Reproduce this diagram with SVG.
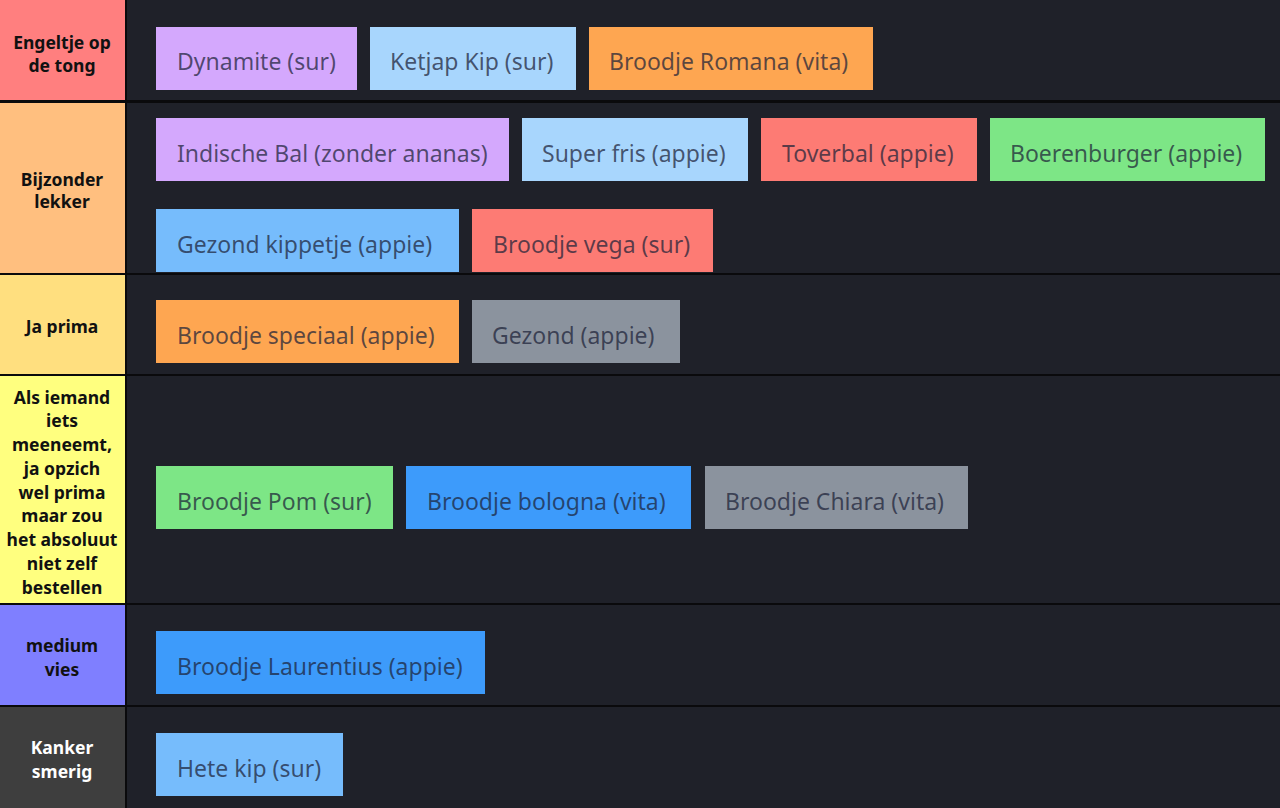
<svg xmlns="http://www.w3.org/2000/svg" width="1280" height="808" viewBox="0 0 1280 808">
<style>
.bg{fill:#1f2129}
.sep{fill:#0a0a0c}
.lbl{font-family:"Noto Sans","Open Sans",sans-serif;font-weight:bold;font-size:17.5px;text-anchor:middle;dominant-baseline:central;fill:#111}
.it{font-family:"Noto Sans","Open Sans",sans-serif;font-size:23px;dominant-baseline:central;fill:#1c2238;fill-opacity:0.72}
.purple{fill:#d4a8fd}
.lblue{fill:#a8d6fd}
.orange{fill:#fea651}
.red{fill:#fd7b74}
.green{fill:#7de686}
.mblue{fill:#76bcfc}
.gray{fill:#8b939e}
.bblue{fill:#3d9bfb}
</style>
<rect class="sep" x="0" y="0" width="1280" height="808"/>
<g id="rows">
<rect class="bg" x="127" y="0" width="1153" height="100"/>
<rect class="bg" x="127" y="103" width="1153" height="170"/>
<rect class="bg" x="127" y="275" width="1153" height="99"/>
<rect class="bg" x="127" y="376" width="1153" height="227"/>
<rect class="bg" x="127" y="605" width="1153" height="100"/>
<rect class="bg" x="127" y="707" width="1153" height="101"/>
</g>
<g id="tier1">
<rect x="0" y="0" width="125" height="100" fill="#ff7f7f"/>
<text class="lbl" x="62" y="42">Engeltje op</text>
<text class="lbl" x="62" y="65">de tong</text>
</g>
<g id="tier2">
<rect x="0" y="103" width="125" height="170" fill="#ffbf7f"/>
<text class="lbl" x="62" y="179">Bijzonder</text>
<text class="lbl" x="62" y="201">lekker</text>
</g>
<g id="tier3">
<rect x="0" y="275" width="125" height="99" fill="#ffdf7f"/>
<text class="lbl" x="62" y="326">Ja prima</text>
</g>
<g id="tier4">
<rect x="0" y="376" width="125" height="227" fill="#ffff7f"/>
<text class="lbl" x="62" y="397">Als iemand</text>
<text class="lbl" x="62" y="420">iets</text>
<text class="lbl" x="62" y="444">meeneemt,</text>
<text class="lbl" x="62" y="468">ja opzich</text>
<text class="lbl" x="62" y="492">wel prima</text>
<text class="lbl" x="62" y="515">maar zou</text>
<text class="lbl" x="62" y="539">het absoluut</text>
<text class="lbl" x="62" y="563">niet zelf</text>
<text class="lbl" x="62" y="587">bestellen</text>
</g>
<g id="tier5">
<rect x="0" y="605" width="125" height="100" fill="#7f7fff"/>
<text class="lbl" x="62" y="645">medium</text>
<text class="lbl" x="62" y="669">vies</text>
</g>
<g id="tier6">
<rect x="0" y="707" width="125" height="101" fill="#3e3e3e"/>
<text class="lbl" x="62" y="747" style="fill:#fff">Kanker</text>
<text class="lbl" x="62" y="771" style="fill:#fff">smerig</text>
</g>
<g id="item-dynamite"><rect class="purple" x="156" y="27" width="201" height="63"/><text class="it" x="177" y="61">Dynamite (sur)</text></g>
<g id="item-ketjap"><rect class="lblue" x="370" y="27" width="206" height="63"/><text class="it" x="390" y="61">Ketjap Kip (sur)</text></g>
<g id="item-romana"><rect class="orange" x="589" y="27" width="284" height="63"/><text class="it" x="609" y="61">Broodje Romana (vita)</text></g>
<g id="item-indische"><rect class="purple" x="156" y="118" width="353" height="63"/><text class="it" x="177" y="153">Indische Bal (zonder ananas)</text></g>
<g id="item-superfris"><rect class="lblue" x="522" y="118" width="226" height="63"/><text class="it" x="542" y="153">Super fris (appie)</text></g>
<g id="item-toverbal"><rect class="red" x="761" y="118" width="216" height="63"/><text class="it" x="782" y="153">Toverbal (appie)</text></g>
<g id="item-boerenburger"><rect class="green" x="990" y="118" width="275" height="63"/><text class="it" x="1010" y="153">Boerenburger (appie)</text></g>
<g id="item-kippetje"><rect class="mblue" x="156" y="209" width="303" height="63"/><text class="it" x="177" y="244">Gezond kippetje (appie)</text></g>
<g id="item-vega"><rect class="red" x="472" y="209" width="241" height="63"/><text class="it" x="493" y="244">Broodje vega (sur)</text></g>
<g id="item-speciaal"><rect class="orange" x="156" y="300" width="303" height="63"/><text class="it" x="177" y="335">Broodje speciaal (appie)</text></g>
<g id="item-gezond"><rect class="gray" x="472" y="300" width="208" height="63"/><text class="it" x="492" y="335">Gezond (appie)</text></g>
<g id="item-pom"><rect class="green" x="156" y="466" width="237" height="63"/><text class="it" x="177" y="501">Broodje Pom (sur)</text></g>
<g id="item-bologna"><rect class="bblue" x="406" y="466" width="285" height="63"/><text class="it" x="427" y="501">Broodje bologna (vita)</text></g>
<g id="item-chiara"><rect class="gray" x="705" y="466" width="263" height="63"/><text class="it" x="725" y="501">Broodje Chiara (vita)</text></g>
<g id="item-laurentius"><rect class="bblue" x="156" y="631" width="329" height="63"/><text class="it" x="177" y="666">Broodje Laurentius (appie)</text></g>
<g id="item-hetekip"><rect class="mblue" x="156" y="733" width="187" height="63"/><text class="it" x="177" y="768">Hete kip (sur)</text></g>
<g id="connectors"></g>
</svg>
